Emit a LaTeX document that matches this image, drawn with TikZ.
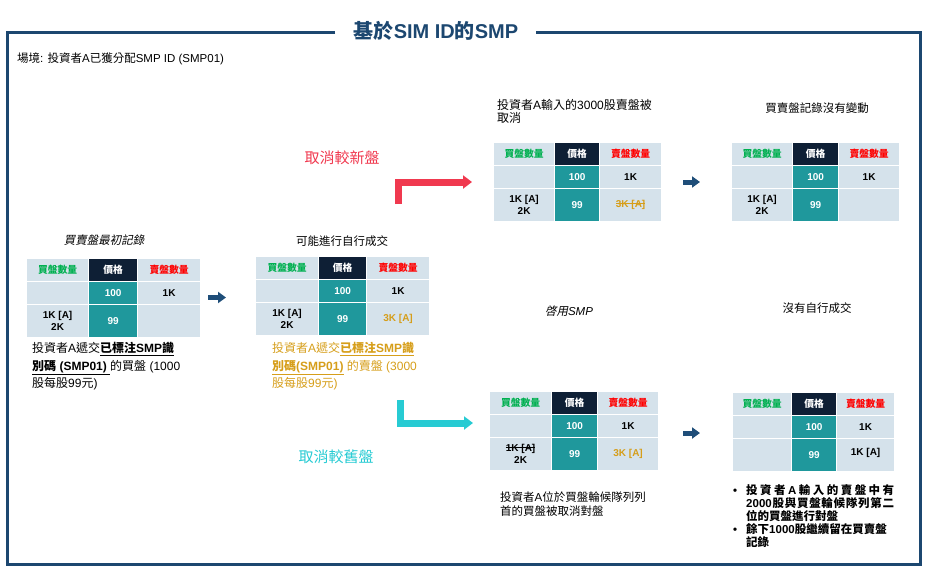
\documentclass[tikz,border=0pt]{standalone}
\usepackage{fontspec}
\usetikzlibrary{arrows.meta}
\setmainfont{Liberation Sans}
\newfontfamily\cjk{Noto Sans CJK TC}[ItalicFont={Noto Sans CJK TC}, ItalicFeatures={FakeSlant=0.2}]
\XeTeXinterchartokenstate=1
\newXeTeXintercharclass\cjkclass
\count255="2E80
\loop
  \XeTeXcharclass\count255=\cjkclass
  \advance\count255 by 1
\ifnum\count255<"A000 \repeat
\XeTeXinterchartoks 0 \cjkclass={\cjk}
\XeTeXinterchartoks 4095 \cjkclass={\cjk}
\XeTeXinterchartoks \cjkclass 0={\rmfamily}
\XeTeXinterchartoks \cjkclass 4095={\rmfamily}
\newsavebox\strkbox
\newcommand\strk[1]{\sbox\strkbox{#1}\rlap{\rule[0.32em]{\wd\strkbox}{0.7pt}}\usebox\strkbox}
\definecolor{frameblue}{HTML}{1C4770}
\definecolor{hdrbg}{HTML}{D5E2EB}
\definecolor{navy}{HTML}{0E1F35}
\definecolor{cellteal}{HTML}{1F989C}
\definecolor{buygreen}{HTML}{00B050}
\definecolor{sellred}{HTML}{FF0000}
\definecolor{gold}{HTML}{D69E1A}
\definecolor{arrowred}{HTML}{F0394F}
\definecolor{arrowcyan}{HTML}{27CBD3}
\definecolor{arrownavy}{HTML}{1F4E79}
\tikzset{
  frame/.style={draw=frameblue, line width=3pt},
  hcell/.style={draw=white, line width=1.2pt, fill=hdrbg, minimum height=22.5pt, inner sep=0pt, font=\fontsize{9.8}{11}\selectfont\bfseries, align=center},
  bcell/.style={draw=white, line width=1.2pt, fill=hdrbg, inner sep=0pt, font=\fontsize{10}{12}\selectfont\bfseries, align=center},
  pcell/.style={bcell, fill=cellteal, text=white},
  txt/.style={inner sep=0pt, font=\fontsize{11.5}{14}\selectfont, align=left},
  lbl/.style={inner sep=0pt, font=\fontsize{11.5}{14}\selectfont},
  navyarrow/.style={draw=arrownavy, line width=5pt, -{Triangle[length=8pt,width=11pt]}},
  elbow/.style={line width=7pt, line join=miter, -{Triangle[length=9pt,width=13pt]}},
}
\newcommand\smptab[9]{%
  \node[hcell, text=buygreen, minimum width={#4-#2}, anchor=north west] (#1h1) at (#2,#3) {買盤數量};
  \node[hcell, fill=navy, text=white, minimum width={#5-#4}, anchor=north west] (#1h2) at (#4,#3) {價格};
  \node[hcell, text=sellred, minimum width={#6-#5}, anchor=north west] (#1h3) at (#5,#3) {賣盤數量};
  \node[bcell, minimum width={#4-#2}, minimum height=23pt, anchor=north west] (#1a1) at (#2,{#3+22.5}) {};
  \node[pcell, minimum width={#5-#4}, minimum height=23pt, anchor=north west] (#1a2) at (#4,{#3+22.5}) {100};
  \node[bcell, minimum width={#6-#5}, minimum height=23pt, anchor=north west] (#1a3) at (#5,{#3+22.5}) {#7};
  \node[bcell, minimum width={#4-#2}, minimum height=33pt, anchor=north west] (#1b1) at (#2,{#3+45.5}) {#8};
  \node[pcell, minimum width={#5-#4}, minimum height=33pt, anchor=north west] (#1b2) at (#4,{#3+45.5}) {99};
  \node[bcell, minimum width={#6-#5}, minimum height=33pt, anchor=north west] (#1b3) at (#5,{#3+45.5}) {#9};
}
\begin{document}
\begin{tikzpicture}[x=1pt,y=-1pt]
\useasboundingbox (0,0) rectangle (933,578);
% frame and title
\draw[frame] (335,32.5) -- (7.5,32.5) -- (7.5,564.5) -- (920.5,564.5) -- (920.5,32.5) -- (536,32.5);
\node[inner sep=0pt, text=frameblue, font=\fontsize{20}{24}\selectfont\bfseries] (title) at (436,30.5) {基於SIM ID的SMP};
\node[txt, anchor=west] (scen) at (17,59) {場境: 投資者A已獲分配SMP ID (SMP01)};

% tables
\smptab{t1}{26}{258}{88}{137}{200}{1K}{1K [A]\\2K}{}
\smptab{t2}{255}{256}{318}{366}{429}{1K}{1K [A]\\2K}{\color{gold}3K [A]}
\smptab{t3}{493}{142}{554}{599}{661}{1K}{1K [A]\\2K}{\color{gold}\strk{3K [A]}}
\smptab{t4}{731}{142}{792}{838}{899}{1K}{1K [A]\\2K}{}
\smptab{t5}{489}{391}{551}{597}{658}{1K}{\strk{1K [A]}\\2K}{\color{gold}3K [A]}
\smptab{t6}{732}{392}{791}{836}{894}{1K}{}{\raisebox{5pt}{1K [A]}}

% labels
\node[lbl, font=\fontsize{11.5}{14}\selectfont\itshape] (l1) at (104,240) {買賣盤最初記錄};
\node[lbl] (l2) at (342,241) {可能進行自行成交};
\node[lbl] (l4) at (817,108) {買賣盤記錄沒有變動};
\node[lbl, font=\fontsize{11.5}{14}\selectfont\itshape] (l5) at (569,311) {啓用SMP};
\node[lbl] (l6) at (817,308) {沒有自行成交};
\node[lbl, text=arrowred, font=\fontsize{15}{18}\selectfont] (newlbl) at (342,158) {取消較新盤};
\node[lbl, text=arrowcyan, font=\fontsize{15}{18}\selectfont] (oldlbl) at (336,457) {取消較舊盤};

% descriptions
\node[txt, anchor=north west, font=\fontsize{12}{17.5}\selectfont] (d1) at (32,342)
  {投資者A遞交\underline{\textbf{已標注SMP識}}\\\underline{\textbf{別碼 (SMP01) }}的買盤 (1000\\股每股99元)};
\node[txt, anchor=north west, text=gold, font=\fontsize{12}{17.5}\selectfont] (d2) at (272,342)
  {投資者A遞交\underline{\textbf{已標注SMP識}}\\\underline{\textbf{別碼(SMP01)}} 的賣盤 (3000\\股每股99元)};
\node[txt, anchor=north west, font=\fontsize{12}{13.5}\selectfont] (d3) at (497,99)
  {投資者A輸入的3000股賣盤被\\取消};
\node[txt, anchor=north west, font=\fontsize{11.5}{14}\selectfont] (d4) at (500,492)
  {投資者A位於買盤輪候隊列列\\首的買盤被取消對盤};
\node[txt, anchor=north west, font=\fontsize{11.5}{13}\selectfont\bfseries] (d5) at (733,484)
  {\makebox[13pt][l]{•}\hbox to 148pt{投\hfill 資\hfill 者\hfill A\hfill 輸\hfill 入\hfill 的\hfill 賣\hfill 盤\hfill 中\hfill 有}\\
   \hspace*{13pt}\hbox to 148pt{2000\hfill 股\hfill 與\hfill 買\hfill 盤\hfill 輪\hfill 候\hfill 隊\hfill 列\hfill 第\hfill 二}\\
   \hspace*{13pt}位的買盤進行對盤\\
   \makebox[13pt][l]{•}餘下1000股繼續留在買賣盤\\
   \hspace*{13pt}記錄};

% arrows
\coordinate (a1s) at (208,297.5); \coordinate (a1e) at (226,297.5);
\coordinate (a2s) at (683,182);   \coordinate (a2e) at (700,182);
\coordinate (a3s) at (683,433);   \coordinate (a3e) at (700,433);
\draw[navyarrow] (a1s) -- (a1e);
\draw[navyarrow] (a2s) -- (a2e);
\draw[navyarrow] (a3s) -- (a3e);
\coordinate (r0) at (398.5,204); \coordinate (r1) at (472,182);
\draw[elbow, draw=arrowred] (r0) |- (r1);
\coordinate (c0) at (400.5,400); \coordinate (c1) at (473,423);
\draw[elbow, draw=arrowcyan] (c0) |- (c1);
\end{tikzpicture}
\end{document}
